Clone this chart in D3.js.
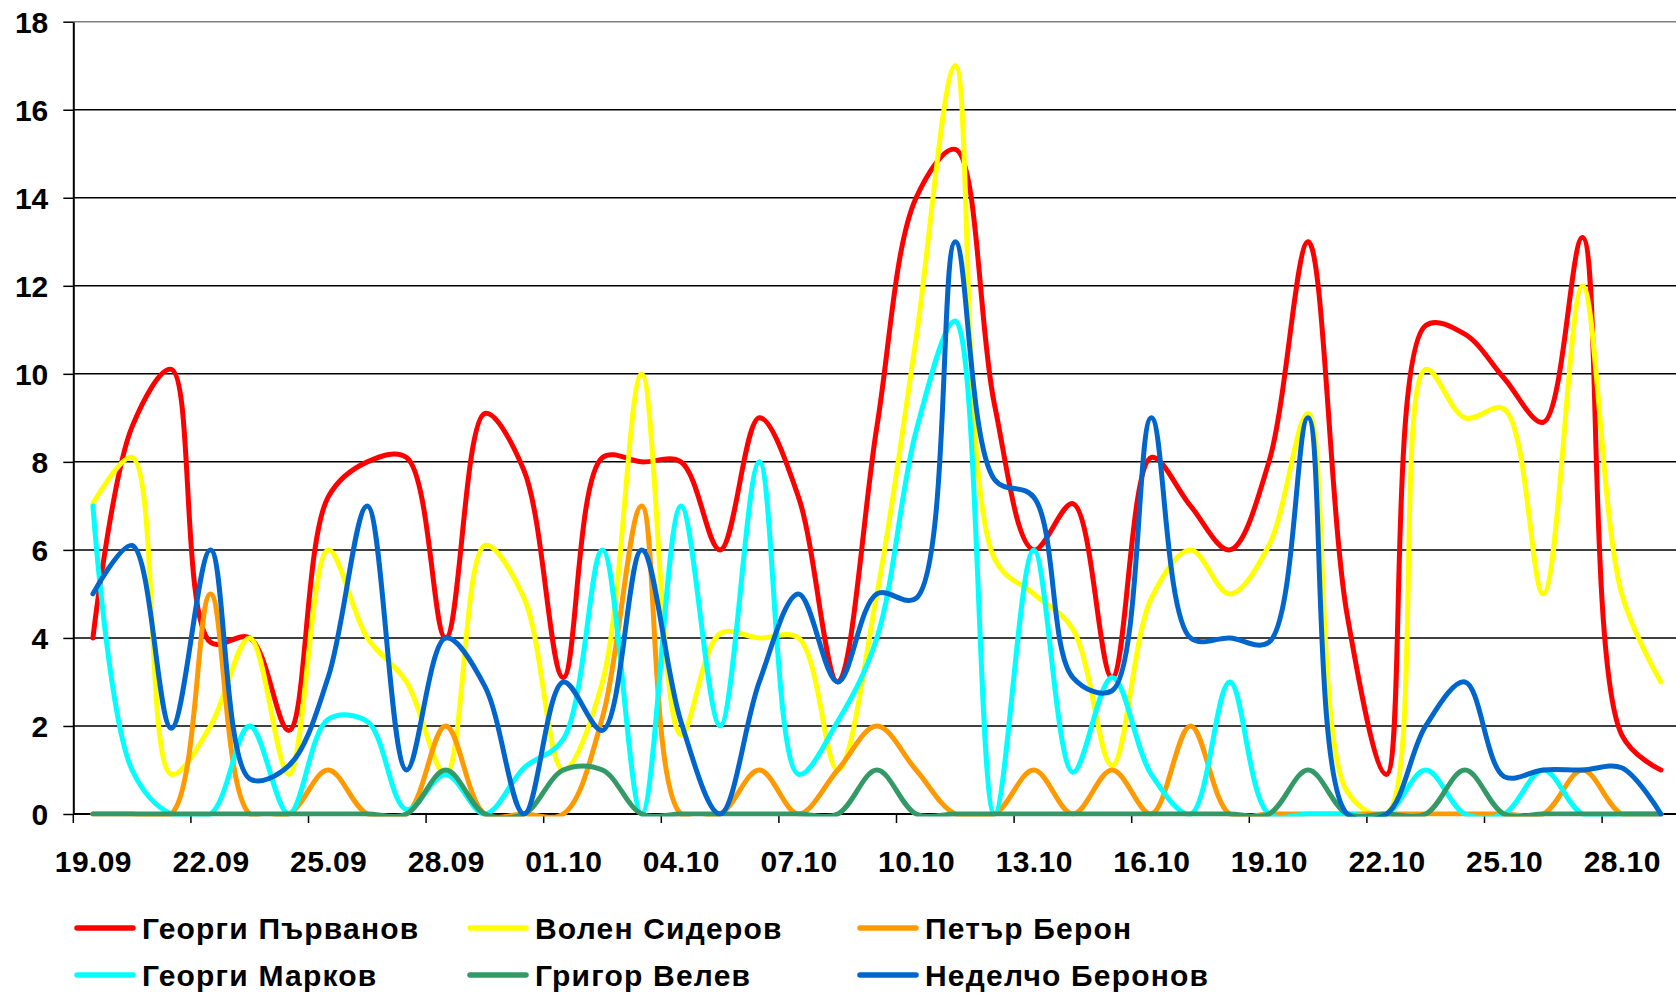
<!DOCTYPE html>
<html>
<head>
<meta charset="utf-8">
<script src="https://cdn.jsdelivr.net/npm/d3@7"></script>
<style>
  html, body { margin: 0; padding: 0; background: #ffffff; }
  svg { display: block; }
  text { font-family: "Liberation Sans", Arial, sans-serif; font-weight: bold; fill: #000; }
</style>
</head>
<body>
<svg id="chart" width="1676" height="994"></svg>
<script>
// ---------- data ----------
const categories = ["19.09","20.09","21.09","22.09","23.09","24.09","25.09","26.09","27.09","28.09",
  "29.09","30.09","01.10","02.10","03.10","04.10","05.10","06.10","07.10","08.10",
  "09.10","10.10","11.10","12.10","13.10","14.10","15.10","16.10","17.10","18.10",
  "19.10","20.10","21.10","22.10","23.10","24.10","25.10","26.10","27.10","28.10","29.10"];

const tickLabels = ["19.09","22.09","25.09","28.09","01.10","04.10","07.10","10.10","13.10","16.10","19.10","22.10","25.10","28.10"];

const yTicks = [0, 2, 4, 6, 8, 10, 12, 14, 16, 18];

const seriesNames = ["Георги Първанов", "Волен Сидеров", "Петър Берон", "Георги Марков", "Григор Велев", "Неделчо Беронов"];
const seriesColors = ["#ff0000", "#ffff00", "#ff9900", "#00ffff", "#339966", "#0066cc"];

const parvanov = [4.0, 8.8, 10.1, 3.9, 4.0, 1.9, 7.2, 8.0, 8.1, 4.0, 9.1, 7.8, 3.1, 8.1, 8.0, 8.0, 6.0, 9.0, 7.2, 3.0,
  8.8, 14.0, 15.1, 9.3, 6.0, 7.05, 3.1, 8.1, 7.0, 6.0, 8.0, 13.0, 4.5, 0.9, 11.1, 10.9, 9.9, 8.9, 13.1, 1.8, 1.0];
const sidorov = [7.05, 8.1, 0.9, 2.0, 4.0, 0.9, 6.0, 4.0, 3.0, 0.9, 6.1, 4.9, 1.0, 3.0, 10.0, 1.8, 4.1, 4.0, 4.0, 1.0,
  5.0, 10.8, 17.0, 5.8, 5.0, 4.2, 1.1, 4.9, 6.0, 5.0, 6.1, 9.1, 0.5, 0, 10.1, 9.0, 9.2, 5.0, 12.0, 5.0, 3.0];
const beron = [0, 0, 0, 5.0, 0, 0, 1.0, 0, 0, 2.0, 0, 0, 0, 2.2, 7.0, 0, 0, 1.0, 0, 1.0,
  2.0, 1.0, 0, 0, 1.0, 0, 1.0, 0, 2.0, 0, 0, 0, 0, 0, 0, 0, 0, 0, 1.0, 0, 0];
const markov = [7.0, 1.0, 0, 0, 2.0, 0, 2.15, 2.1, 0.1, 0.9, 0, 1.05, 1.7, 6.0, 0, 7.0, 2.0, 8.0, 0.9, 2.1,
  4.0, 8.7, 11.2, 0, 6.0, 0.95, 3.1, 0.9, 0, 3.0, 0, 0, 0, 0, 1.0, 0, 0, 1.0, 0, 0, 0];
const velev = [0, 0, 0, 0, 0, 0, 0, 0, 0, 1.0, 0, 0, 1.0, 1.0, 0, 0, 0, 0, 0, 0,
  1.0, 0, 0, 0, 0, 0, 0, 0, 0, 0, 0, 1.0, 0, 0, 0, 1.0, 0, 0, 0, 0, 0];
const beronov = [5.0, 6.1, 1.95, 6.0, 0.8, 1.1, 3.1, 7.0, 1.0, 4.0, 2.9, 0, 3.0, 1.9, 6.0, 2.1, 0, 3.0, 5.0, 3.0,
  5.0, 4.9, 13.0, 7.6, 7.2, 3.1, 2.8, 9.0, 4.0, 4.0, 3.9, 9.0, 0, 0, 2.0, 3.0, 0.85, 1.0, 1.0, 1.05, 0];

const seriesValues = [parvanov, sidorov, beron, markov, velev, beronov];

// ---------- layout ----------
const W = 1676, H = 994;
const plotLeft = 73.3, plotTop = 21.7, plotBottom = 814;
const step = 39.2;
const plotRight = plotLeft + categories.length * step;

const svg = d3.select("#chart");

const x = d3.scalePoint().domain(categories).range([plotLeft, plotRight]).padding(0.5);
const y = d3.scaleLinear().domain([0, 18]).range([plotBottom, plotTop]);

// gridlines
const grid = svg.append("g");
grid.selectAll("line.grid")
  .data(yTicks.filter(v => v > 0))
  .join("line")
  .attr("x1", plotLeft).attr("x2", W)
  .attr("y1", d => y(d)).attr("y2", d => y(d))
  .attr("stroke", d => d === 18 ? "#808080" : "#000")
  .attr("stroke-width", 1.5);

// y axis
const yAxis = d3.axisLeft(y).tickValues(yTicks).tickSize(10).tickSizeOuter(0).tickPadding(15).tickFormat(d => d);
const gy = svg.append("g").attr("transform", `translate(${plotLeft},0)`).call(yAxis);
gy.select(".domain").attr("stroke", "#000").attr("stroke-width", 2);
gy.selectAll(".tick line").attr("stroke", "#000").attr("stroke-width", 1.5);
gy.selectAll(".tick text").attr("font-size", 30).attr("font-family", "Liberation Sans, Arial, sans-serif")
  .attr("font-weight", "bold").attr("fill", "#000").attr("dy", "0.36em");

// x axis
const xAxis = d3.axisBottom(x).tickValues(tickLabels).tickSize(0).tickSizeOuter(0).tickPadding(36.5);
const gx = svg.append("g").attr("transform", `translate(0,${plotBottom})`).call(xAxis);
gx.select(".domain").remove();
gx.selectAll(".tick text").attr("font-size", 30).attr("font-family", "Liberation Sans, Arial, sans-serif")
  .attr("font-weight", "bold").attr("fill", "#000").attr("letter-spacing", "0.4px");
svg.append("line").attr("x1", plotLeft).attr("x2", W).attr("y1", plotBottom).attr("y2", plotBottom)
  .attr("stroke", "#000").attr("stroke-width", 2);
// boundary tick marks every 3 categories
const boundaryIdx = d3.range(0, categories.length, 3);
svg.append("g").selectAll("line")
  .data(boundaryIdx)
  .join("line")
  .attr("x1", d => x(categories[d]) - x.step() / 2)
  .attr("x2", d => x(categories[d]) - x.step() / 2)
  .attr("y1", plotBottom).attr("y2", plotBottom + 9)
  .attr("stroke", "#000").attr("stroke-width", 1.5);

// clip
svg.append("clipPath").attr("id", "plotclip")
  .append("rect").attr("x", plotLeft).attr("y", plotTop - 4)
  .attr("width", plotRight - plotLeft).attr("height", plotBottom - plotTop + 6.5);

const line = d3.line()
  .x((d, i) => x(categories[i]))
  .y(d => y(d))
  .curve(d3.curveCatmullRom.alpha(0.5));

const lines = svg.append("g").attr("clip-path", "url(#plotclip)");
seriesValues.forEach((vals, k) => {
  lines.append("path")
    .datum(vals)
    .attr("d", line)
    .attr("fill", "none")
    .attr("stroke", seriesColors[k])
    .attr("stroke-width", 5)
    .attr("stroke-linejoin", "round")
    .attr("stroke-linecap", "round");
});

// legend
const legCols = [77, 470, 860];
const legRows = [928, 975];
const leg = svg.append("g");
seriesNames.forEach((name, k) => {
  const cx = legCols[k % 3], cy = legRows[Math.floor(k / 3)];
  leg.append("line").attr("x1", cx).attr("x2", cx + 56).attr("y1", cy).attr("y2", cy)
    .attr("stroke", seriesColors[k]).attr("stroke-width", 5.5).attr("stroke-linecap", "round");
  leg.append("text").attr("x", cx + 65).attr("y", cy + 11)
    .attr("font-size", 30).attr("letter-spacing", "1.2px").text(name);
});
</script>
</body>
</html>
